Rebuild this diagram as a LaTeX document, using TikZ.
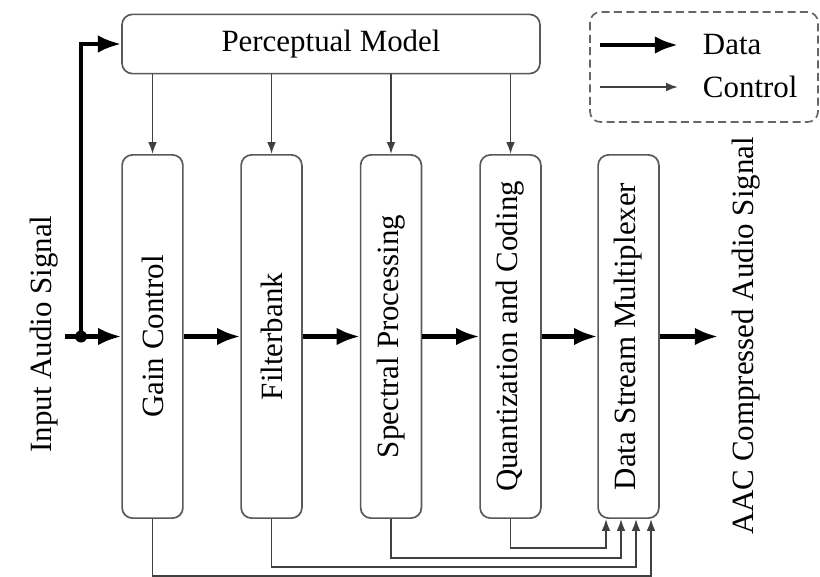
\documentclass[tikz,border=0pt]{standalone}
\usepackage{fontspec}
\setmainfont{Liberation Serif}
\usetikzlibrary{calc,arrows.meta}
\tikzset{>=Latex,
  block/.style={draw=black!65,line width=.6pt,rounded corners=1.3mm,font=\fontsize{11}{13}\selectfont},
  data/.style={line width=1.5pt,-{Latex[length=2.9mm,width=2.2mm]}},
  ctrl/.style={draw=black!75,line width=.65pt,-{Latex[length=1.5mm,width=1.1mm]}},
  lbl/.style={font=\fontsize{11}{13}\selectfont}}

\begin{document}
\begin{tikzpicture}[x=.125mm,y=-.125mm]
\useasboundingbox (0,0) rectangle (820,576);
\node[block,minimum width=52.25mm,minimum height=7.4mm] (pm) at (331,44) {Perceptual Model};
\foreach \name/\xx/\txt in {gc/152.5/Gain Control,fb/271.5/Filterbank,sp/391/Spectral Processing,qc/510.5/Quantization and Coding,dsm/628.5/Data Stream Multiplexer}
  \node[block,minimum width=7.6mm,minimum height=45.4mm] (\name) at (\xx,336.5) {\rotatebox{90}{\txt}};
% control from the model
\foreach \name in {gc,fb,sp,qc}
  \draw[ctrl] (\name.north |- pm.south) -- (\name.north);
% data path
\coordinate (in) at (65,336.5);
\coordinate (split) at (81,336.5);
\draw[data] (in) -- (gc);
\draw[data] (split) |- (pm);
\fill (split) circle (.75mm);
\foreach \a/\b in {gc/fb,fb/sp,sp/qc,qc/dsm}
  \draw[data] (\a) -- (\b);
\coordinate (out) at (718,336.5);
\draw[data] (dsm) -- (out);
\node[lbl,rotate=90] (inlbl) at (44,334) {Input Audio Signal};
\node[lbl,rotate=90] (outlbl) at (746,336) {AAC Compressed Audio Signal};
% side info into the multiplexer
\foreach \src/\dx/\yy in {qc/-22.5/547,sp/-7.5/557,fb/7.5/566,gc/22.5/575}
  \draw[ctrl] (\src.south) |- ($(dsm.south)+(\dx,\yy-518)$) -- ($(dsm.south)+(\dx,0)$);
% legend
\draw[draw=black!60,line width=.6pt,rounded corners=1.3mm,dash pattern=on 1mm off .55mm] (590,12) rectangle (818,122);
\coordinate (dl) at (600,45);
\coordinate (cl) at (600,87);
\node[lbl,anchor=west] (datalbl) at (693,45) {Data};
\node[lbl,anchor=west] (ctrllbl) at (693,87) {Control};
\draw[data] (dl) -- ++(78,0);
\draw[ctrl] (cl) -- ++(78,0);
\end{tikzpicture}
\end{document}
